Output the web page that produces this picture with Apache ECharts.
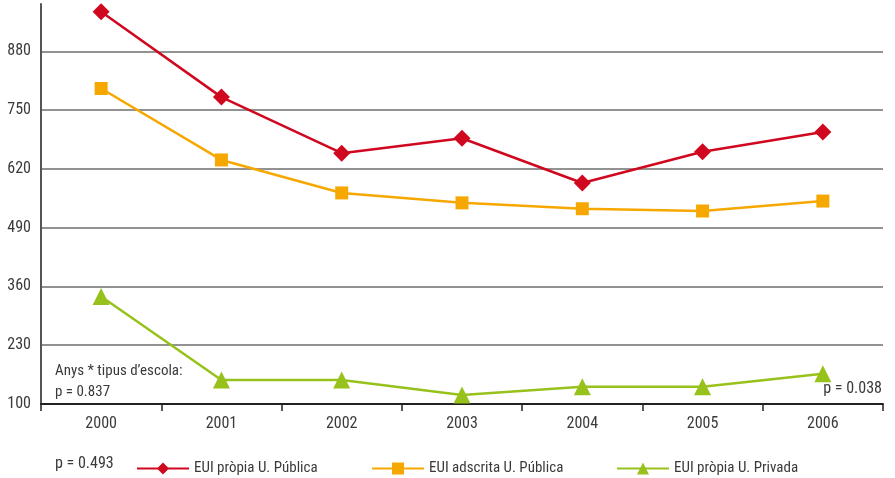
<!DOCTYPE html>
<html>
<head>
<meta charset="utf-8">
<script src="https://cdn.jsdelivr.net/npm/echarts@6/dist/echarts.min.js"></script>
<style>
  html, body { margin: 0; padding: 0; background: #fff; }
  #chart { width: 895px; height: 478px; }
</style>
</head>
<body>
<div id="chart"></div>
<script>
// dades llegides del gràfic
var years = ['2000', '2001', '2002', '2003', '2004', '2005', '2006'];
var propiaPublica = [968, 779, 655, 688, 589, 658, 702];
var adscritaPublica = [798, 640, 567, 545, 532, 527, 549];
var propiaPrivada = [338, 153, 153, 120, 138, 138, 167];
var seriesNames = ['EUI pròpia U. Pública', 'EUI adscrita U. Pública', 'EUI pròpia U. Privada'];
var seriesColors = ['#d0081f', '#f6a800', '#97c11b'];

var font = '"Liberation Sans Narrow", "Roboto Condensed", "DejaVu Sans Condensed", sans-serif';
var textColor = '#3a3a3a';

var chart = echarts.init(document.getElementById('chart'));

function legendAt(left, name) {
  return {
    left: left,
    top: 456,
    itemWidth: 52,
    itemHeight: 15,
    selectedMode: false,
    data: [name],
    textStyle: { fontFamily: font, fontSize: 15, color: textColor }
  };
}

var option = {
  animation: false,
  color: seriesColors,
  grid: { left: 41, right: 12, top: 4, bottom: 74 },
  legend: [
    legendAt(131, seriesNames[0]),
    legendAt(366, seriesNames[1]),
    legendAt(611, seriesNames[2])
  ],
  xAxis: {
    type: 'category',
    data: years,
    boundaryGap: true,
    axisLine: { lineStyle: { color: '#222', width: 2 } },
    axisTick: { show: true, length: 7, lineStyle: { color: '#222', width: 1.5 } },
    axisLabel: { fontFamily: font, fontSize: 16, color: textColor, margin: 12 }
  },
  yAxis: {
    type: 'value',
    min: 100,
    max: 985,
    interval: 130,
    axisLine: { show: true, lineStyle: { color: '#555', width: 2 } },
    axisTick: { show: false },
    axisLabel: { fontFamily: font, fontSize: 16, color: textColor, margin: 10, showMaxLabel: false },
    splitLine: { show: true, showMinLine: false, showMaxLine: false, lineStyle: { color: '#6e6e6e', width: 1.5 } }
  },
  series: [
    {
      name: seriesNames[0],
      type: 'line',
      data: propiaPublica,
      symbol: 'diamond',
      symbolSize: 17,
      lineStyle: { width: 2.5 }
    },
    {
      name: seriesNames[1],
      type: 'line',
      data: adscritaPublica,
      symbol: 'rect',
      symbolSize: 13,
      lineStyle: { width: 2.5 }
    },
    {
      name: seriesNames[2],
      type: 'line',
      data: propiaPrivada,
      symbol: 'triangle',
      symbolSize: 17,
      lineStyle: { width: 2.5 }
    }
  ],
  graphic: [
    {
      type: 'text', left: 55, top: 361,
      style: { text: 'Anys * tipus d\u2019escola:\np = 0.837', font: '15px ' + font, fill: textColor, lineHeight: 21 }
    },
    {
      type: 'text', right: 13, top: 381,
      style: { text: 'p = 0.038', font: '16px ' + font, fill: textColor }
    },
    {
      type: 'text', left: 55, top: 456,
      style: { text: 'p = 0.493', font: '16px ' + font, fill: textColor }
    }
  ]
};

chart.setOption(option);
</script>
</body>
</html>
